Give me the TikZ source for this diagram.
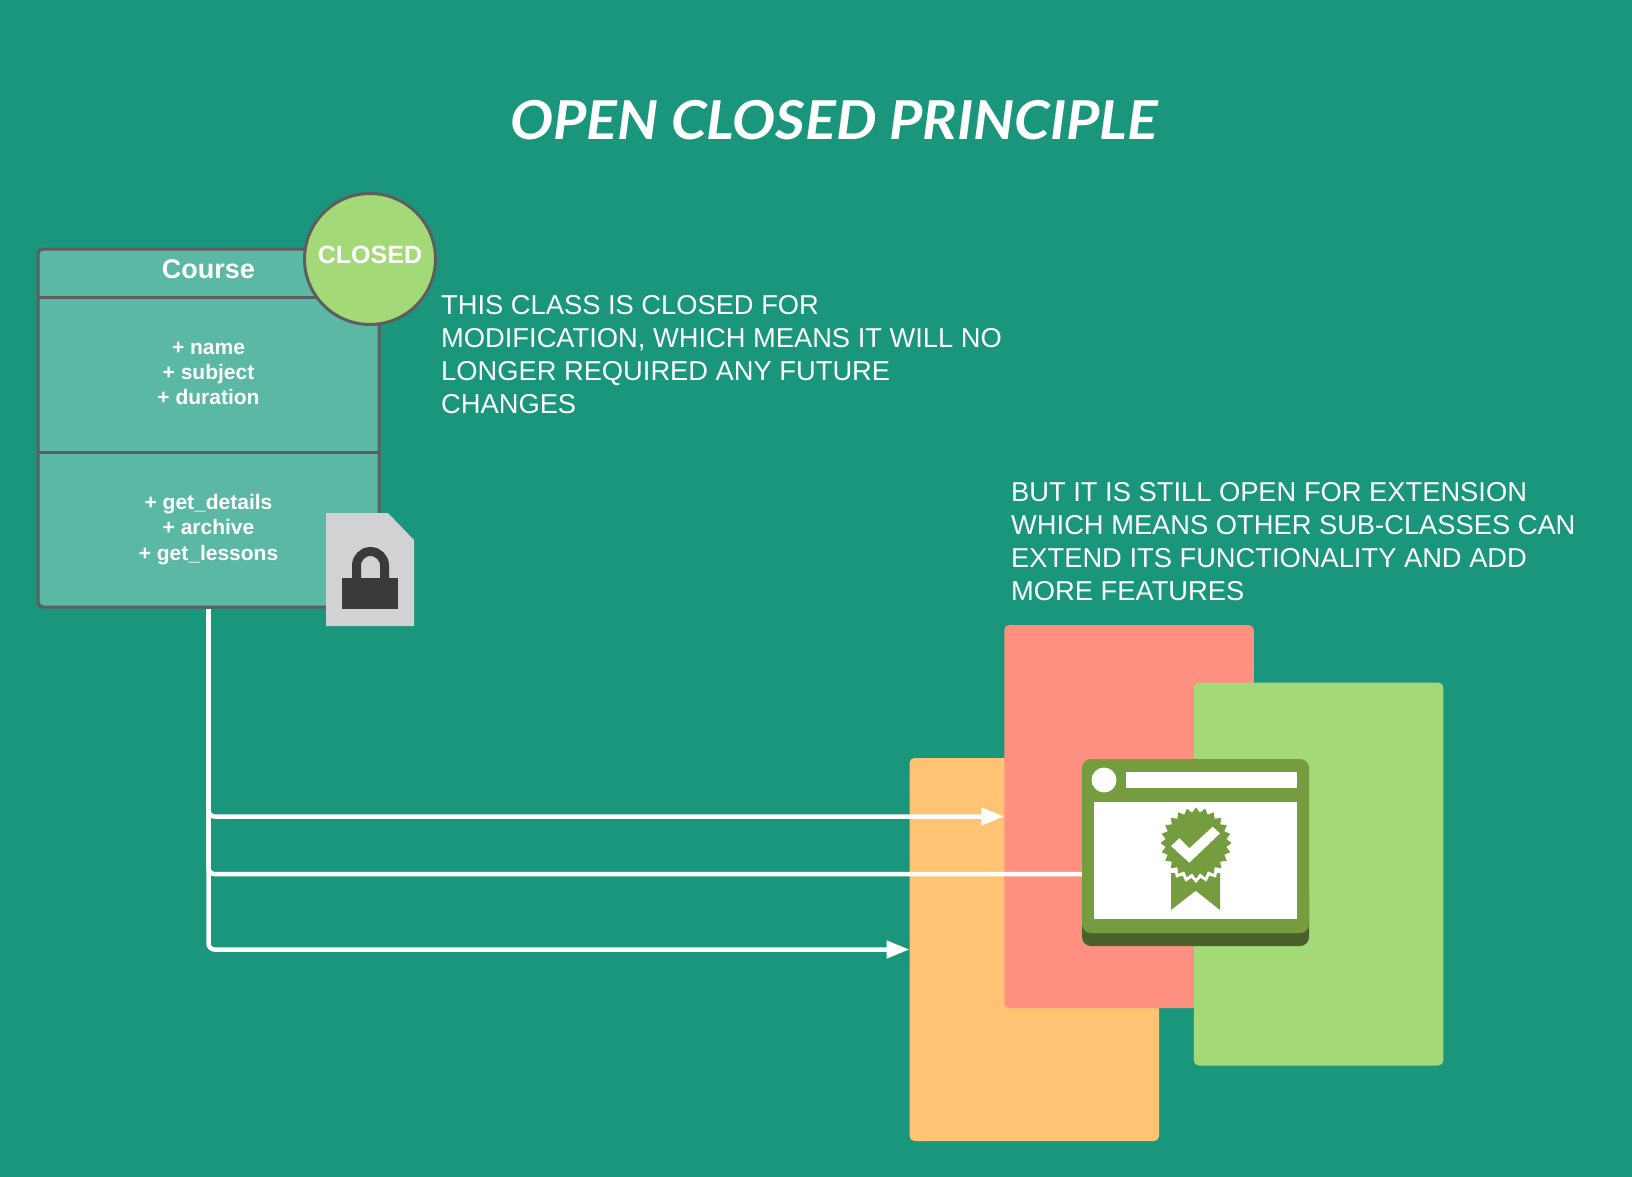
\documentclass[tikz,border=0pt]{standalone}
\usepackage{fontspec}
\setmainfont{Liberation Sans}
\newfontfamily\titlefont[ItalicFont=*-Bold Italic,FakeStretch=1.07]{Lato}
\usetikzlibrary{arrows.meta,shapes.geometric}
\definecolor{bgteal}{HTML}{1A967C}
\definecolor{boxteal}{HTML}{5BB8A4}
\definecolor{edgegray}{HTML}{5E5E5E}
\definecolor{leaf}{HTML}{A3D977}
\definecolor{peach}{HTML}{FFC374}
\definecolor{salmon}{HTML}{FF8F80}
\definecolor{winGreen}{HTML}{759C3E}
\definecolor{winDark}{HTML}{4B612C}
\definecolor{paperGray}{HTML}{D0D2D3}
\definecolor{lockDark}{HTML}{3A3A3A}
\tikzset{
  card/.style={rectangle,rounded corners=5pt,inner sep=0,outer sep=0,minimum width=249.5pt,minimum height=383pt},
  member/.style={text=white,font=\bfseries\fontsize{21}{25.3}\selectfont,align=center,inner sep=0},
  note/.style={text=white,font=\fontsize{27.3}{33}\selectfont,align=left,inner sep=0,anchor=base west},
  rule/.style={draw=edgegray,line width=3pt},
  link/.style={draw=white,line width=4.5pt,rounded corners=6pt},
  linkhead/.style={link,-{Triangle[length=23pt,width=17pt]}},
}
\begin{document}
\begin{tikzpicture}[x=1pt,y=-1pt]
\useasboundingbox (0,0) rectangle (1632,1177);
\fill[bgteal] (0,0) rectangle (1632,1177);

\node[text=white,inner sep=0,font=\fontsize{53.6}{60}\selectfont\titlefont\itshape] (title) at (834,120) {OPEN CLOSED PRINCIPLE};

% class box
\node[draw=edgegray,fill=boxteal,line width=3pt,rounded corners=5pt,inner sep=0,outer sep=0,minimum width=341pt,minimum height=358pt] (course) at (208.5,428) {};
\coordinate (ruleA) at (209,297);
\coordinate (ruleB) at (209,452);
\draw[rule] (course.west |- ruleA) -- (course.east |- ruleA);
\draw[rule] (course.west |- ruleB) -- (course.east |- ruleB);
\node[text=white,inner sep=0,font=\bfseries\fontsize{27}{30}\selectfont] (classname) at (208.5,269) {Course};
\node[member] (attrs) at (208.5,373.5) {+ name\\+ subject\\+ duration};
\node[member] (methods) at (208.5,529.5) {+ get\_details\\+ archive\\+ get\_lessons};

% closed badge
\node[circle,draw=edgegray,fill=leaf,line width=3pt,inner sep=0,outer sep=0,minimum size=131pt] (closed) at (370,259) {};
\node[text=white,inner sep=0,font=\bfseries\fontsize{25}{28}\selectfont] (closedtext) at (370,255) {CLOSED};

% lock icon
\fill[paperGray] (326,513) -- (388,513) -- (414,540) -- (414,626) -- (326,626) -- cycle;
\draw[lockDark,line width=9pt] (356.5,579) -- (356.5,565.5) arc[start angle=180,end angle=0,radius=14pt] -- (384.5,579);
\fill[lockDark] (342,578) rectangle (398,609);

% notes
\node[note] (noteA) at (441,413) {THIS CLASS IS CLOSED FOR\\MODIFICATION, WHICH MEANS IT WILL NO\\LONGER REQUIRED ANY FUTURE\\CHANGES};
\node[note] (noteB) at (1011,600) {BUT IT IS STILL OPEN FOR EXTENSION\\WHICH MEANS OTHER SUB-CLASSES CAN\\EXTEND ITS FUNCTIONALITY AND ADD\\MORE FEATURES};

% subclass cards
\node[card,fill=peach] (orange) at (1034.25,949.5) {};
\node[card,fill=salmon] (red) at (1129,816.5) {};
\node[card,fill=leaf] (green) at (1318.5,874) {};

% connectors
\draw[linkhead] (course.south) ++(0,2) |- (red.west);
\draw[linkhead] (course.south) ++(0,2) |- (green.west);
\draw[linkhead] (course.south) ++(0,2) |- (orange.west);

% certificate window
\node[fill=winDark,rounded corners=9pt,inner sep=0,outer sep=0,minimum width=227pt,minimum height=60pt] (winbase) at (1195.5,916) {};
\node[fill=winGreen,rounded corners=9pt,inner sep=0,outer sep=0,minimum width=227pt,minimum height=174pt] (window) at (1195.5,846) {};
\node[circle,fill=white,inner sep=0,minimum size=25pt] (windot) at (1104,780) {};
\fill[white] (1126,772) rectangle (1297,788);
\fill[white] (1094,802) rectangle (1297,919);
\fill[winGreen] (1171,873) -- (1171,910) -- (1195.7,890.7) -- (1220,910) -- (1220,873) -- cycle;
\node[star,star points=24,star point ratio=1.14,fill=white,inner sep=0,minimum size=80pt] (badgegap) at (1196,843) {};
\node[star,star points=24,star point ratio=1.16,fill=winGreen,inner sep=0,minimum size=71pt] (badge) at (1196,843) {};
\fill[white] (1171,846) -- (1189.3,862.7) -- (1220,833.3) -- (1212.7,826.7) -- (1189.3,848.3) -- (1179.3,838.3) -- cycle;
\end{tikzpicture}
\end{document}
